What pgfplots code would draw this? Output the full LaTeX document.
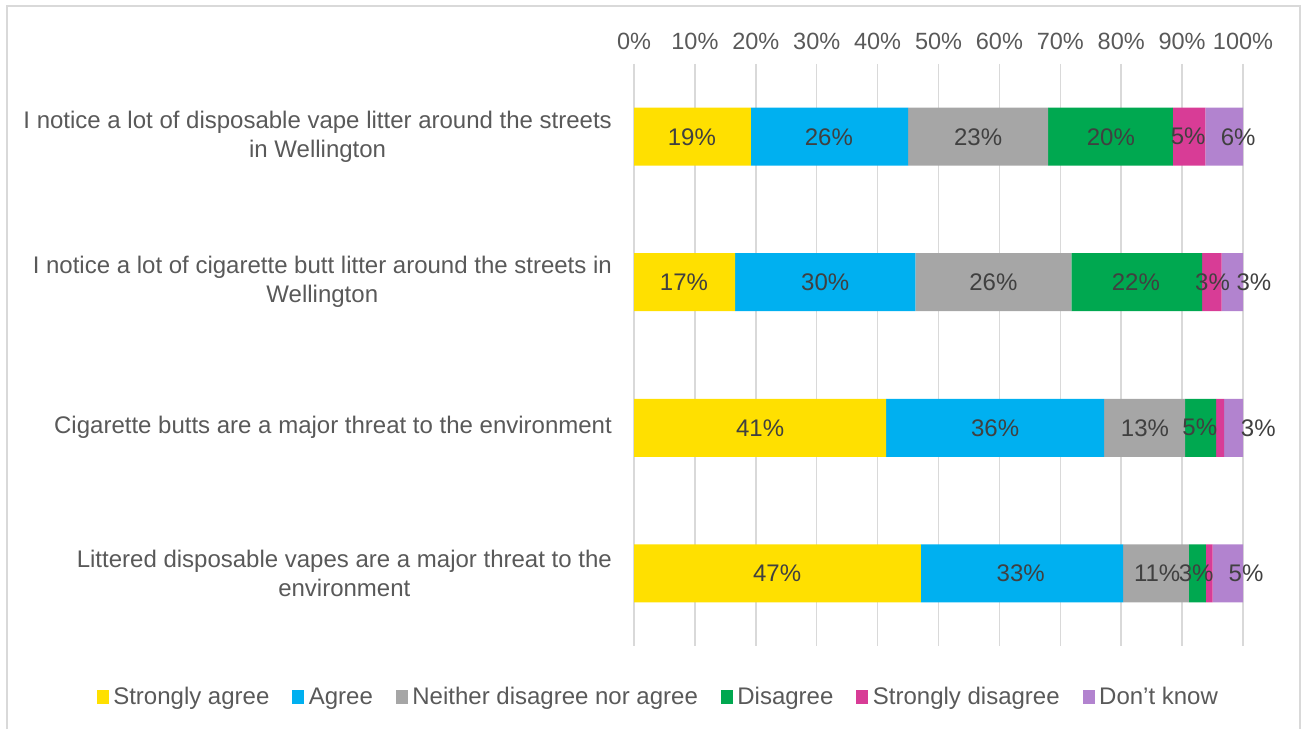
\documentclass[border=0pt]{standalone}
\usepackage{pgfplots}
\pgfplotsset{compat=1.18}
\usepackage{pgfplotstable}
\usepackage{fontspec}
\setmainfont{Liberation Sans}
\definecolor{cSA}{HTML}{FFE000}
\definecolor{cAG}{HTML}{00B0F0}
\definecolor{cNE}{HTML}{A6A6A6}
\definecolor{cDI}{HTML}{00A850}
\definecolor{cSD}{HTML}{D83C96}
\definecolor{cDK}{HTML}{B283CF}
\definecolor{txt}{HTML}{595959}
\definecolor{lab}{HTML}{404040}
\definecolor{grd}{HTML}{D9D9D9}
\pgfplotstableread{
y sa ag ne di sd dk
0 19.2 25.8 23.0 20.5 5.3 6.2
1 16.6 29.6 25.6 21.5 3.2 3.5
2 41.4 35.8 13.3 5.1 1.3 3.1
3 47.1 33.2 10.8 2.8 1.1 5.0
}\data
\pgfplotstableread{
x y m
9.5 0 19
32 0 26
56.5 0 23
78.3 0 20
91 0 5
99.2 0 6
8.2 1 17
31.4 1 30
59 1 26
82.4 1 22
95 1 3
101.8 1 3
20.7 2 41
59.3 2 36
83.9 2 13
92.9 2 5
102.5 2 3
23.5 3 47
63.5 3 33
85.9 3 11
92.3 3 3
100.5 3 5
}\labels
\begin{document}
\begin{tikzpicture}[x=1bp,y=1bp]
\useasboundingbox (0,0) rectangle (1303,729);
\draw[grd, line width=1.2bp] (7,0) -- (7,723) -- (1300,723) -- (1300,0);
\pgfplotsset{common/.style={
  at={(634bp,83bp)}, anchor=south west,
  scale only axis, width=609bp, height=582bp,
  xmin=0, xmax=100, ymin=-0.5, ymax=3.5, y dir=reverse,
  clip=false,
}}
\begin{axis}[common,
  xbar stacked, bar width=58bp,
  axis line style={draw=none},
  major tick length=0pt,
  xtick={0,10,...,100},
  xticklabels={0\%,10\%,20\%,30\%,40\%,50\%,60\%,70\%,80\%,90\%,100\%},
  xticklabel pos=upper,
  xmajorgrids, grid style={grd, line width=1.5bp},
  xticklabel style={font=\fontsize{23.5bp}{28bp}\selectfont, text=txt, inner sep=0pt, yshift=14bp},
  ytick={0,1,2,3},
  yticklabels={{I notice a lot of disposable vape litter around the streets\\in Wellington},
               {I notice a lot of cigarette butt litter around the streets in\\Wellington},
               {Cigarette butts are a major threat to the environment},
               {Littered disposable vapes are a major threat to the\\environment}},
  yticklabel style={font=\fontsize{24bp}{29bp}\selectfont, text=txt, align=center, inner sep=0pt, xshift=-22bp},
  legend style={at={(0.04,-0.0876)}, anchor=center, draw=none, fill=none,
    legend columns=6, font=\fontsize{24bp}{28bp}\selectfont, text=txt,
    /tikz/every odd column/.append style={column sep=2.5bp},
    /tikz/every even column/.append style={column sep=21bp},
    legend cell align=left, inner sep=0pt},
  legend image code/.code={\fill[#1,draw=none] (0bp,-7bp) rectangle (12bp,7bp);},
]
\addplot[fill=cSA, draw=none] table[x=sa,y=y]{\data};
\addplot[fill=cAG, draw=none] table[x=ag,y=y]{\data};
\addplot[fill=cNE, draw=none] table[x=ne,y=y]{\data};
\addplot[fill=cDI, draw=none] table[x=di,y=y]{\data};
\addplot[fill=cSD, draw=none] table[x=sd,y=y]{\data};
\addplot[fill=cDK, draw=none] table[x=dk,y=y]{\data};
\legend{Strongly agree, Agree, Neither disagree nor agree, Disagree, Strongly disagree, Don{\char"27}t know}
\end{axis}
\begin{axis}[common, hide axis]
\addplot[draw=none, mark=none, nodes near coords={\pgfplotspointmeta\%},
  point meta=explicit symbolic,
  every node near coord/.style={anchor=center, font=\fontsize{24bp}{28bp}\selectfont, text=lab, inner sep=0pt}]
  table[x=x,y=y,meta=m]{\labels};
\end{axis}
\end{tikzpicture}
\end{document}
